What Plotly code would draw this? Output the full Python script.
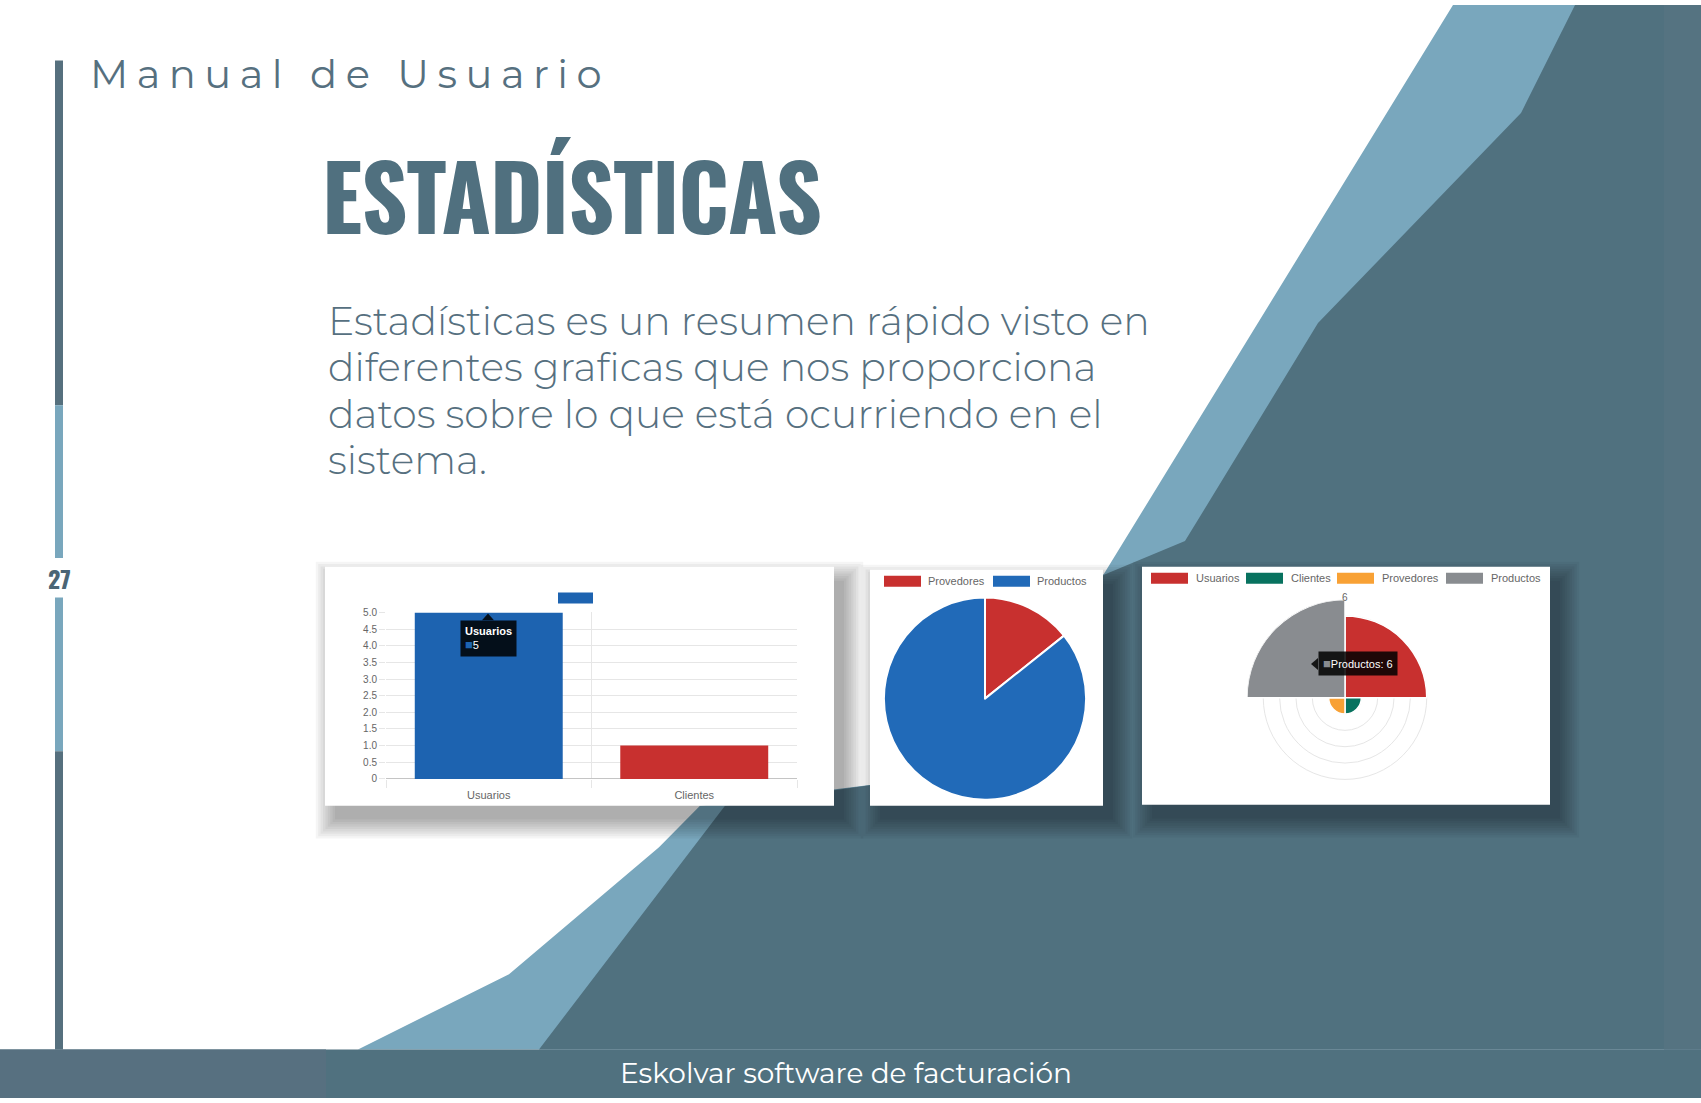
import plotly.graph_objects as go

W, H = 1701, 1103

# --- data ---
bar_labels = ["Usuarios", "Clientes"]
bar_values = [5, 1]
bar_colors = ["#1d63b0", "#c8302f"]
bar_tickvals = [0, 0.5, 1, 1.5, 2, 2.5, 3, 3.5, 4, 4.5, 5]
bar_ticktext = ["0", "0.5", "1.0", "1.5", "2.0", "2.5", "3.0", "3.5", "4.0", "4.5", "5.0"]

pie_labels = ["Provedores", "Productos"]
pie_values = [1, 6]
pie_colors = ["#c8302f", "#216ab8"]

polar_labels = ["Usuarios", "Clientes", "Provedores", "Productos"]
polar_values = [5, 1, 1, 6]
polar_colors = ["#c8302f", "#08725f", "#f8a135", "#898c90"]
polar_rings = [1, 2, 3, 4, 5, 6]

body_lines = [
    "Estadísticas es un resumen rápido visto en",
    "diferentes graficas que nos proporciona",
    "datos sobre lo que está ocurriendo en el",
    "sistema.",
]

SLATE = "#50717f"
LIGHT = "#79a7bd"
TEXT = "#56707f"
GREY = "#666666"
GRID = "#e6e6e6"
SANS = "Liberation Sans, Arial, sans-serif"
BODY = "Montserrat, Lato, sans-serif"


def px(x):
    return x / W


def py(y):
    return 1 - y / H


def path(points):
    pts = [f"{px(x):.5f},{py(y):.5f}" for x, y in points]
    return "M " + " L ".join(pts) + " Z"


def rect(x0, y0, x1, y1, color, opacity=1.0):
    return dict(type="rect", xref="paper", yref="paper", layer="below",
                x0=px(x0), x1=px(x1), y0=py(y1), y1=py(y0),
                fillcolor=color, opacity=opacity, line_width=0)


shapes = []
# background diagonal bands
shapes.append(dict(type="path", xref="paper", yref="paper", layer="below",
                   path=path([(1453, 0), (1701, 0), (1701, 1054), (358, 1054), (509, 978),
                              (659, 850), (700, 808), (880, 786), (1104, 574)]),
                   fillcolor=LIGHT, line_width=0))
shapes.append(dict(type="path", xref="paper", yref="paper", layer="below",
                   path=path([(1575, 0), (1701, 0), (1701, 1054), (539, 1054), (725, 808),
                              (880, 786), (1104, 575), (1185, 541), (1318, 321), (1521, 109)]),
                   fillcolor=SLATE, line_width=0))
shapes.append(rect(1664, 0, 1701, 1054, "#557381"))
# footer band
shapes.append(rect(0, 1054, 1701, 1103, SLATE))
shapes.append(rect(0, 1054, 326, 1103, "#577080"))
# left rule
shapes.append(rect(55, 56, 63, 404, "#56707e"))
shapes.append(rect(55, 404, 63, 558, LIGHT))
shapes.append(rect(55, 598, 63, 753, LIGHT))
shapes.append(rect(55, 753, 63, 1054, "#56707e"))

# chart cards with soft shadows
cards = [(325, 567, 834, 808), (870, 570, 1103, 808), (1142, 567, 1550, 807)]
for x0, y0, x1, y1 in cards:
    for k in range(9):
        s = k * 2.4
        shapes.append(rect(x0 + 10 - s, y0 + 14 - s, x1 + 10 + s, y1 + 14 + s, "#000000", 0.04))
for x0, y0, x1, y1 in cards:
    shapes.append(rect(x0, y0, x1, y1, "#ffffff"))

# legend swatches (chart.js style)
shapes.append(rect(558, 593, 593, 604, bar_colors[0]))
pie_legend_x = [884, 993]
for x, c in zip(pie_legend_x, pie_colors):
    shapes.append(rect(x, 576, x + 37, 587, c))
polar_legend_x = [1151, 1246, 1337, 1446]
for x, c in zip(polar_legend_x, polar_colors):
    shapes.append(rect(x, 573, x + 37, 584, c))

# tooltip carets
shapes.append(dict(type="path", xref="paper", yref="paper", layer="above",
                   path=path([(482, 621), (488, 614), (494, 621)]),
                   fillcolor="rgba(0,0,0,0.85)", line_width=0))
shapes.append(dict(type="path", xref="paper", yref="paper", layer="above",
                   path=path([(1318, 659), (1311, 665), (1318, 671)]),
                   fillcolor="rgba(0,0,0,0.85)", line_width=0))

fig = go.Figure()

fig.add_trace(go.Bar(
    x=bar_labels, y=bar_values, marker_color=bar_colors, marker_line_width=0,
    xaxis="x", yaxis="y", showlegend=False, hoverinfo="x+y",
))

fig.add_trace(go.Pie(
    labels=pie_labels, values=pie_values, sort=False, direction="clockwise", rotation=0,
    marker=dict(colors=pie_colors, line=dict(color="#ffffff", width=2)),
    textinfo="none", showlegend=False,
    domain=dict(x=[px(883), px(1087)], y=[py(802), py(598)]),
))

# one full sector per category
fig.add_trace(go.Barpolar(
    r=polar_values, theta=polar_labels, width=[1] * len(polar_labels),
    marker=dict(color=polar_colors, line=dict(color="#ffffff", width=1.5)),
    subplot="polar", showlegend=False,
))

ann = []
ann.append(dict(text="27", x=px(59), y=py(578), xref="paper", yref="paper",
                xanchor="center", yanchor="middle", showarrow=False,
                font=dict(family="Oswald", size=24, color="#4b6575", weight="bold")))
ann.append(dict(text='<span style="letter-spacing:8.5px">Manual de Usuario</span>',
                x=px(88), y=py(69), xref="paper", yref="paper", xanchor="left", yanchor="middle",
                showarrow=False, font=dict(family=BODY, size=40, color=TEXT, weight=400)))
ann.append(dict(text='<span style="letter-spacing:-1px">ESTADÍSTICAS</span>',
                x=px(320), y=py(190), xref="paper", yref="paper", xanchor="left", yanchor="middle",
                showarrow=False,
                font=dict(family="Oswald", size=90, color="#50707f", weight="bold")))
for i, line in enumerate(body_lines):
    ann.append(dict(text=line, x=px(326), y=py(319 + i * 46.7), xref="paper", yref="paper",
                    xanchor="left", yanchor="middle", showarrow=False,
                    font=dict(family=BODY, size=39.3, color=TEXT, weight=300)))
ann.append(dict(text="Eskolvar software de facturación", x=px(846), y=py(1078),
                xref="paper", yref="paper", xanchor="center", yanchor="middle", showarrow=False,
                font=dict(family=BODY, size=28, color="#ffffff")))

legend_font = dict(family=SANS, size=11, color=GREY)
for x, name in zip(pie_legend_x, pie_labels):
    ann.append(dict(text=name, x=px(x + 42), y=py(581.5), xref="paper", yref="paper",
                    xanchor="left", yanchor="middle", showarrow=False, font=legend_font))
for x, name in zip(polar_legend_x, polar_labels):
    ann.append(dict(text=name, x=px(x + 43), y=py(578.5), xref="paper", yref="paper",
                    xanchor="left", yanchor="middle", showarrow=False, font=legend_font))

# outer ring label of the polar chart
ann.append(dict(text=str(polar_rings[-1]), x=px(1345), y=py(598), xref="paper", yref="paper",
                xanchor="center", yanchor="middle", showarrow=False,
                font=dict(family=SANS, size=10, color=GREY)))

# tooltips
ann.append(dict(text=f"<b>{bar_labels[0]}</b><br><span style='color:{bar_colors[0]};font-size:13px'>■</span>{bar_values[0]}",
                x=bar_labels[0], y=bar_values[0], xref="x", yref="y",
                xanchor="center", yanchor="top", yshift=-8,
                align="left", showarrow=False, bgcolor="rgba(0,0,0,0.85)", borderpad=4,
                font=dict(family=SANS, size=11, color="#ffffff")))
ann.append(dict(text=f"<span style='color:{polar_colors[3]};font-size:13px'>■</span>{polar_labels[3]}: {polar_values[3]}",
                x=px(1318), y=py(665), xref="paper", yref="paper", xanchor="left", yanchor="middle",
                showarrow=False, bgcolor="rgba(0,0,0,0.85)", borderpad=4,
                font=dict(family=SANS, size=11, color="#ffffff")))

fig.update_layout(
    width=W, height=H, margin=dict(l=0, r=0, t=0, b=0),
    paper_bgcolor="#ffffff", plot_bgcolor="#ffffff",
    shapes=shapes, annotations=ann,
    bargap=0.28,
    xaxis=dict(domain=[px(386), px(797)], type="category", range=[-0.5, 1.5],
               tickson="boundaries", showgrid=True, gridcolor=GRID, ticks="outside",
               ticklen=8, tickcolor=GRID, showline=False, zeroline=False,
               ticklabelstandoff=8,
               tickfont=dict(family=SANS, size=11, color=GREY)),
    yaxis=dict(domain=[py(781), py(613)], range=[0, 5], tickvals=bar_tickvals,
               ticktext=bar_ticktext, showgrid=True, gridcolor=GRID, ticks="outside",
               ticklen=6, tickcolor=GRID, zeroline=True, zerolinecolor="#c4c4c4",
               zerolinewidth=1, showline=False,
               tickfont=dict(family=SANS, size=10, color=GREY)),
    polar=dict(
        domain=dict(x=[px(1246), px(1444)], y=[py(798), py(600)]),
        bgcolor="#ffffff",
        radialaxis=dict(range=[0, 6], tickvals=polar_rings, showticklabels=False,
                        showline=False, gridcolor=GRID, ticks="", angle=90),
        angularaxis=dict(type="category", rotation=45, direction="clockwise",
                         showgrid=False, showticklabels=False, showline=False, ticks=""),
    ),
)

# pin the figure to the top-left corner of the page
pin = ("document.body.style.margin='0';document.body.style.overflow='hidden';"
       "var d=document.getElementById('{plot_id}');"
       "d.style.position='fixed';d.style.top='0px';d.style.left='0px';")
fig.write_html("out.html", config={"displayModeBar": False}, post_script=pin)
